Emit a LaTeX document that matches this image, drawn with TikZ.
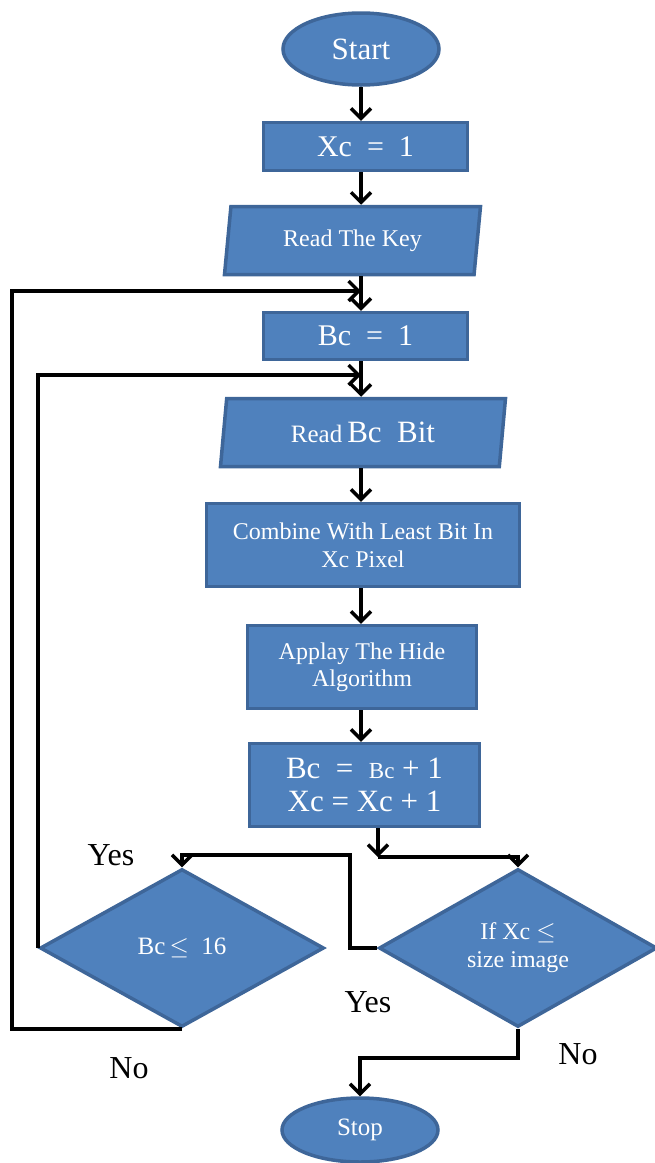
\documentclass[tikz,border=0pt]{standalone}
\usepackage{fontspec}
\setmainfont{Liberation Serif}
\usetikzlibrary{shapes.geometric,arrows.meta}
\definecolor{boxfill}{HTML}{4F81BD}
\definecolor{boxline}{HTML}{3E6699}
\tikzset{
  blk/.style={fill=boxfill,draw=boxline,line width=3.5pt,text=white,align=center,inner sep=2pt},
  procbox/.style={blk,rectangle},
  termbox/.style={blk,ellipse},
  iobox/.style={blk,trapezium,trapezium left angle=76,trapezium right angle=104,trapezium stretches body},
  decbox/.style={blk,diamond,aspect=1.8},
  flow/.style={line width=4pt,-{Straight Barb[length=10pt,width=20pt,line width=3.4pt]}},
  lbl/.style={font=\fontsize{32}{34}\selectfont,text=black}
}
\begin{document}
\begin{tikzpicture}[x=1pt,y=-1pt]
\useasboundingbox (0,0) rectangle (655,1163);
\clip (0,0) rectangle (655,1163);

% main column
\node[termbox,minimum width=156pt,minimum height=72pt,font=\fontsize{31}{32}\selectfont] (start) at (361,49) {Start};
\node[procbox,minimum width=204pt,minimum height=48pt,font=\fontsize{30}{32}\selectfont] (xc) at (365.5,146.5) {Xc\ \ =\ \ 1};
\node[iobox,minimum width=256pt,minimum height=68pt,font=\fontsize{24}{28}\selectfont] (key) at (352.5,240.5) {Read The Key};
\node[procbox,minimum width=204pt,minimum height=47pt,font=\fontsize{30}{32}\selectfont] (bc) at (365.5,336) {Bc\ \ =\ \ 1};
\node[iobox,minimum width=285pt,minimum height=68pt] (bit) at (363,432.5) {{\fontsize{25}{28}\selectfont Read}\ \ {\fontsize{31}{32}\selectfont Bc\ \ Bit}};
\node[procbox,minimum width=313pt,minimum height=83pt,font=\fontsize{24}{28}\selectfont] (comb) at (363,545) {Combine With Least Bit In\\Xc Pixel};
\node[procbox,minimum width=229pt,minimum height=83pt,font=\fontsize{24}{27}\selectfont] (hide) at (362,667) {Applay The Hide\\Algorithm};
\node[procbox,minimum width=230pt,minimum height=83pt,font=\fontsize{31}{33}\selectfont] (inc) at (364.5,785) {Bc\ \ =\ \ {\fontsize{23}{26}\selectfont Bc} + 1\\Xc = Xc + 1};

% decisions
\node[decbox,minimum width=284pt,minimum height=158pt,font=\fontsize{25}{28}\selectfont] (d1) at (182,948) {Bc\,$\leq$\ \ 16};
\node[decbox,minimum width=278pt,minimum height=158pt,font=\fontsize{24}{28}\selectfont] (d2) at (518,948) {If Xc $\leq$\\size image};

\node[termbox,minimum width=156pt,minimum height=64pt,font=\fontsize{25}{28}\selectfont] (stop) at (360,1130) {Stop};

% junctions
\coordinate (j1) at (361,291);
\coordinate (j2) at (361,375);
\coordinate (sp) at (378,857);
\coordinate (yb) at (350,855);
\coordinate (nb) at (519,1058);

% straight flow
\draw[flow] (start.south -| j1) -- (j1 |- xc.north);
\draw[flow] (j1 |- xc.south) -- (j1 |- key.north);
\draw[flow] (j1 |- key.south) -- (j1 |- bc.north);
\draw[flow] (j1 |- bc.south) -- (j1 |- bit.north);
\draw[flow] (j1 |- bit.south) -- (j1 |- comb.north);
\draw[flow] (j1 |- comb.south) -- (j1 |- hide.north);
\draw[flow] (j1 |- hide.south) -- (j1 |- inc.north);

% split after the increment
\draw[flow] (sp |- inc.south) -- (sp);
\draw[flow] (sp) -| (d2.north);

% yes from the image test back to the bit test
\draw[flow] (d2.west) -| (yb) -| (d1.north);

% loops back up
\draw[flow] (d1.west) |- (j2);
\draw[flow] (d1.south) -- ++(-170,0) |- (j1);

% no from the image test to stop
\draw[flow] (d2.south) |- (nb -| stop.north) -- (stop.north);

% branch labels
\node[lbl] (y1) at (111,855) {Yes};
\node[lbl] (y2) at (368,1002) {Yes};
\node[lbl] (n1) at (578,1054) {No};
\node[lbl] (n2) at (129,1068) {No};
\end{tikzpicture}
\end{document}
